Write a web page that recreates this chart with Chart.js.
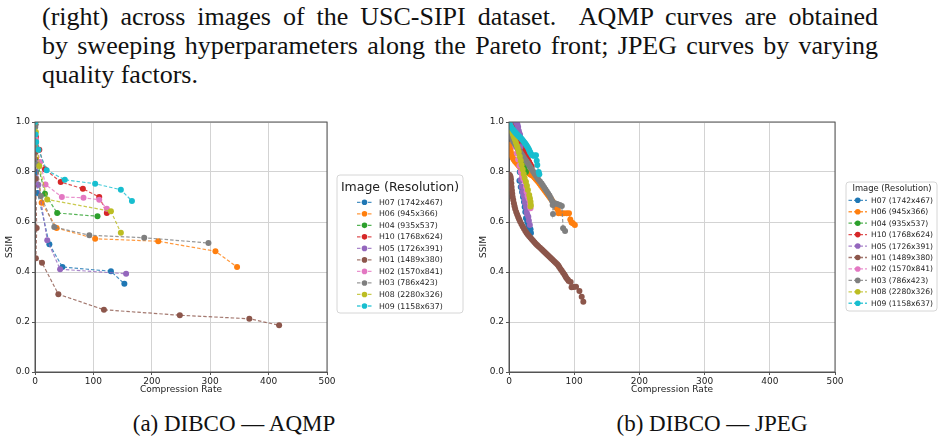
<!DOCTYPE html>
<html>
<head>
<meta charset="utf-8">
<script src="https://cdn.jsdelivr.net/npm/chart.js@4.4.1/dist/chart.umd.min.js"></script>
<style>
  html, body { margin: 0; padding: 0; background: #fff; }
  body { width: 944px; height: 444px; position: relative; overflow: hidden; }
  .caption {
    position: absolute; left: 42px; top: 2px; width: 836px;
    font-family: "Liberation Serif", serif; font-size: 26px; line-height: 29px; color: #111;
  }
  .caption .j { text-align: justify; text-align-last: justify; white-space: nowrap; }
  .sub {
    position: absolute; top: 411px; width: 300px; text-align: center;
    font-family: "Liberation Serif", serif; font-size: 23px; color: #111;
  }
  canvas { position: absolute; }
</style>
</head>
<body>
<div class="caption">
  <div class="j">(right) across images of the USC-SIPI dataset.&nbsp; AQMP curves are obtained</div>
  <div class="j">by sweeping hyperparameters along the Pareto front; JPEG curves by varying</div>
  <div>quality factors.</div>
</div>
<canvas id="aqmpChart" width="480" height="296" style="left:0;top:100px;width:480px;height:296px"></canvas>
<canvas id="jpegChart" width="470" height="296" style="left:474px;top:100px;width:470px;height:296px"></canvas>
<div class="sub" style="left:84px">(a) DIBCO — AQMP</div>
<div class="sub" style="left:562px">(b) DIBCO — JPEG</div>
<script>
// legend labels, in plotting order
const imageLabels = ['H07 (1742x467)', 'H06 (945x366)', 'H04 (935x537)', 'H10 (1768x624)', 'H05 (1726x391)',
                     'H01 (1489x380)', 'H02 (1570x841)', 'H03 (786x423)', 'H08 (2280x326)', 'H09 (1158x637)'];
const tab10 = ['#1f77b4', '#ff7f0e', '#2ca02c', '#d62728', '#9467bd', '#8c564b', '#e377c2', '#7f7f7f', '#bcbd22', '#17becf'];

const rateTicks = [0, 100, 200, 300, 400, 500];
const ssimTicks = [0.0, 0.2, 0.4, 0.6, 0.8, 1.0];

// AQMP: [compression rate, SSIM]
const aqmpH07 = [[0.5,0.99],[1,0.93],[2,0.80],[4.6,0.716],[24.6,0.511],[47,0.42],[130,0.403],[153,0.353]];
const aqmpH06 = [[0.5,1.0],[1,0.94],[2,0.85],[11.4,0.677],[37,0.576],[103,0.533],[211,0.523],[309,0.483],[346,0.42]];
const aqmpH04 = [[0.5,0.99],[1.5,0.92],[4,0.84],[17,0.713],[38,0.636],[107,0.623]];
const aqmpH10 = [[0.5,1.0],[1.5,0.94],[7.4,0.889],[17,0.811],[44,0.76],[82,0.733],[110,0.70],[123,0.636]];
const aqmpH05 = [[0.5,0.99],[1,0.9],[5.7,0.749],[21,0.527],[43,0.411],[156,0.393]];
const aqmpH01 = [[0.5,0.99],[1,0.88],[1.1,0.773],[2.9,0.576],[1.5,0.455],[12,0.437],[40,0.311],[118,0.249],[248,0.227],[367,0.213],[418,0.187]];
const aqmpH02 = [[0.5,1.0],[1.5,0.93],[8.6,0.84],[18,0.75],[46,0.70],[83,0.697],[110,0.689],[123,0.653]];
const aqmpH03 = [[0.5,0.98],[1,0.9],[3,0.83],[10,0.704],[33,0.58],[93,0.547],[187,0.537],[297,0.516]];
const aqmpH08 = [[0.5,1.0],[1.5,0.96],[7.4,0.824],[21,0.69],[130,0.643],[147,0.557]];
const aqmpH09 = [[0.5,1.0],[1,0.95],[2,0.92],[6,0.889],[20,0.807],[51,0.769],[103,0.753],[147,0.729],[166,0.684]];

// JPEG: [compression rate, SSIM] over quality factors
const jpegH07 = [[10,1.0],[11,0.99],[12,0.975],[13,0.96],[14,0.94],[15,0.92],[15.5,0.88],[16,0.84],[16.5,0.8],[16,0.765],[18,0.74],[20,0.72],[21.5,0.7],[23,0.68],[24,0.66],[25,0.64],[26,0.615],[28,0.6],[29.6,0.588],[31,0.58],[33,0.571],[33.7,0.556]];
const jpegH06 = [[0.5,0.909],[1,0.905],[1.5,0.898],[2,0.89],[2.5,0.882],[3,0.875],[4,0.868],[5,0.861],[6,0.855],[7.5,0.849],[9,0.843],[11,0.837],[13,0.831],[15,0.825],[17,0.82],[19,0.815],[21,0.81],[23,0.806],[25,0.803],[27,0.8],[29,0.797],[31,0.794],[33,0.79],[35,0.787],[37,0.784],[39,0.778],[41,0.772],[43,0.766],[45,0.76],[47,0.753],[49,0.746],[51,0.739],[53,0.732],[55,0.725],[57,0.718],[59,0.711],[61,0.704],[63,0.697],[65,0.69],[67,0.682],[69,0.674],[71,0.665],[73,0.656],[75,0.648],[76,0.635],[80,0.635],[84,0.635],[88.5,0.635],[92,0.635],[94,0.61],[96,0.598],[98,0.595],[101,0.588]];
const jpegH04 = [[0.5,0.995],[2,0.98],[4,0.965],[6,0.95],[8,0.935],[10,0.92],[12,0.905],[14,0.89],[16,0.875],[18,0.86],[20,0.845],[22,0.83],[24,0.815],[26,0.8]];
const jpegH10 = [[0.5,1.0],[3,0.99],[6,0.978],[9,0.965],[12,0.952],[15,0.937],[17,0.925],[19,0.912],[21,0.9],[23,0.888],[25,0.875],[27,0.862],[29,0.85],[31,0.84],[33,0.83],[34.8,0.821]];
const jpegH05 = [[11,1.0],[12,0.995],[13,0.99],[14,0.98],[15,0.965],[16,0.955],[17,0.948],[17.5,0.9],[18,0.85],[18.5,0.8],[18,0.768],[19.4,0.741],[21,0.72],[22.5,0.705],[24,0.69],[24.5,0.677],[26,0.66],[27,0.64],[28,0.63],[29.6,0.621],[30.5,0.605],[32,0.588]];
const jpegH01 = [[0.5,0.789],[1.5,0.786],[2.5,0.78],[3,0.77],[3.5,0.755],[4,0.74],[4.5,0.726],[5,0.713],[5.6,0.70],[6.5,0.688],[7.5,0.675],[8.5,0.663],[9.5,0.652],[11,0.64],[12.5,0.63],[14,0.62],[15.5,0.611],[17,0.602],[19,0.592],[21,0.582],[23,0.573],[25,0.564],[27,0.556],[29,0.549],[31,0.543],[33,0.537],[35,0.531],[37,0.525],[39,0.519],[41,0.513],[43,0.508],[45,0.503],[47.5,0.497],[50,0.491],[52,0.486],[54,0.481],[56,0.476],[58,0.471],[60,0.466],[62,0.461],[64,0.456],[66,0.451],[68,0.446],[70,0.441],[72,0.436],[74,0.431],[75.6,0.426],[77,0.42],[79,0.412],[81,0.405],[83,0.397],[85,0.39],[86.5,0.383],[88,0.376],[90,0.37],[91.5,0.364],[94.6,0.36],[96,0.339],[99,0.34],[102.8,0.341],[108,0.324],[111.5,0.301],[114,0.281]];
const jpegH02 = [[0.5,1.0],[2,0.985],[4,0.965],[6,0.945],[8,0.925],[10,0.9],[12,0.875],[14,0.85],[16,0.825],[18,0.801],[20,0.785],[22,0.772],[24.5,0.761],[26,0.74],[27,0.721],[28.5,0.705],[30,0.695],[31,0.69],[32,0.675],[32.5,0.662],[33,0.655]];
const jpegH03 = [[0.5,0.985],[1,0.97],[1.5,0.956],[2.5,0.948],[4,0.938],[5.5,0.928],[7,0.92],[9,0.912],[11,0.904],[13,0.896],[15,0.888],[17,0.881],[19,0.873],[21,0.865],[23,0.857],[25,0.849],[27,0.842],[29,0.834],[31,0.826],[33,0.818],[35,0.81],[37,0.802],[39,0.794],[41,0.786],[43,0.778],[45,0.77],[47.5,0.762],[50,0.754],[52,0.746],[54,0.738],[56,0.73],[58,0.722],[60,0.714],[62,0.706],[64,0.696],[66,0.685],[67,0.668],[67.5,0.632],[70.5,0.675],[74,0.672],[78,0.668],[81,0.664],[83,0.575],[86,0.564]];
const jpegH08 = [[0.5,0.99],[1.5,0.98],[3,0.97],[4.5,0.96],[6,0.95],[7.5,0.94],[9,0.93],[10.5,0.918],[12,0.906],[13.5,0.895],[15,0.88],[16.5,0.862],[18,0.845],[19.4,0.828],[21,0.81],[22.5,0.792],[24,0.776],[26,0.761],[27.5,0.745],[29,0.728],[31,0.708],[32,0.695],[33,0.681],[33.5,0.668],[33,0.662]];
const jpegH09 = [[0.5,0.998],[1.5,0.99],[3,0.982],[4.5,0.975],[6,0.97],[7.5,0.965],[9,0.96],[10.5,0.955],[12,0.951],[13.5,0.947],[15,0.943],[16.5,0.94],[18,0.936],[19.5,0.932],[21,0.927],[22.5,0.922],[24,0.917],[25.5,0.912],[27,0.906],[28.5,0.9],[30,0.893],[31,0.887],[32,0.881],[33,0.876],[34.8,0.868],[36.5,0.866],[38,0.865],[40,0.866],[41.4,0.867],[42.5,0.845],[43.4,0.828],[45.5,0.8],[46.5,0.791]];

const aqmpSeries = [aqmpH07, aqmpH06, aqmpH04, aqmpH10, aqmpH05, aqmpH01, aqmpH02, aqmpH03, aqmpH08, aqmpH09];
const jpegSeries = [jpegH07, jpegH06, jpegH04, jpegH10, jpegH05, jpegH01, jpegH02, jpegH03, jpegH08, jpegH09];

Chart.defaults.font.family = '"DejaVu Sans", sans-serif';
Chart.defaults.font.size = 9;
Chart.defaults.color = '#222';

function hexAlpha(hex, a) {
    const n = parseInt(hex.slice(1), 16);
    return `rgba(${n >> 16},${(n >> 8) & 255},${n & 255},${a})`;
}

// matplotlib-style boxed legend, drawn on the canvas
const boxLegend = {
    id: 'boxLegend',
    afterDraw(chart, args, o) {
        const ctx = chart.ctx;
        ctx.save();
        ctx.beginPath();
        ctx.roundRect(o.x0, o.y0, o.x1 - o.x0, o.y1 - o.y0, 3);
        ctx.fillStyle = 'rgba(255,255,255,0.8)';
        ctx.fill();
        ctx.strokeStyle = '#d6d6d6';
        ctx.lineWidth = 1;
        ctx.stroke();

        ctx.fillStyle = '#222';
        ctx.textBaseline = 'middle';
        ctx.textAlign = 'center';
        ctx.font = `${o.titleSize}px "DejaVu Sans"`;
        ctx.fillText('Image (Resolution)', o.titleX, o.titleY);

        ctx.textAlign = 'left';
        ctx.font = `${o.itemSize}px "DejaVu Sans"`;
        chart.data.datasets.forEach((ds, i) => {
            const y = o.rowY + i * o.rowStep;
            ctx.strokeStyle = ds.borderColor;
            ctx.lineWidth = 1.3;
            ctx.setLineDash([3.5, 2]);
            ctx.beginPath();
            ctx.moveTo(o.lineX0, y);
            ctx.lineTo(o.lineX1, y);
            ctx.stroke();
            ctx.setLineDash([]);
            ctx.fillStyle = ds.pointBackgroundColor;
            ctx.beginPath();
            ctx.arc((o.lineX0 + o.lineX1) / 2, y, 2.8, 0, Math.PI * 2);
            ctx.fill();
            ctx.fillStyle = '#222';
            ctx.fillText(ds.label, o.textX, y + 0.5);
        });
        ctx.restore();
    }
};

// top and right spines
const frame = {
    id: 'frame',
    afterDatasetsDraw(chart) {
        const a = chart.chartArea, ctx = chart.ctx;
        ctx.save();
        ctx.strokeStyle = '#555';
        ctx.lineWidth = 1;
        ctx.strokeRect(a.left, a.top, a.right - a.left, a.bottom - a.top);
        ctx.restore();
    }
};

function makeChart(id, series, padRight, legend) {
    const datasets = series.map((pts, i) => ({
        label: imageLabels[i],
        data: pts.map(p => ({ x: p[0], y: p[1] })),
        showLine: true,
        borderColor: hexAlpha(tab10[i], 0.8),
        borderWidth: 1.2,
        borderDash: [3.5, 2],
        pointBackgroundColor: tab10[i],
        pointBorderWidth: 0,
        pointRadius: 3,
        order: -i
    }));
    return new Chart(document.getElementById(id), {
        type: 'scatter',
        data: { datasets },
        options: {
            responsive: false,
            animation: false,
            events: [],
            layout: { padding: { left: 0, top: 22, right: padRight, bottom: 0 } },
            plugins: { legend: { display: false }, tooltip: { enabled: false }, boxLegend: legend },
            scales: {
                x: {
                    type: 'linear', min: 0, max: 500,
                    afterBuildTicks: ax => { ax.ticks = rateTicks.map(v => ({ value: v })); },
                    afterFit: ax => { ax.height = 24; },
                    ticks: { padding: 1, callback: v => String(v) },
                    grid: { color: '#d3d3d3', tickColor: '#555', tickLength: 3 },
                    border: { color: '#555' },
                    title: { display: true, text: 'Compression Rate', padding: { top: 0, bottom: 1 } }
                },
                y: {
                    type: 'linear', min: 0, max: 1,
                    afterBuildTicks: ax => { ax.ticks = ssimTicks.map(v => ({ value: v })); },
                    afterFit: ax => { ax.width = 35; },
                    ticks: { padding: 2, callback: v => v.toFixed(1) },
                    grid: { color: '#d3d3d3', tickColor: '#555', tickLength: 3 },
                    border: { color: '#555' },
                    title: { display: true, text: 'SSIM', padding: { top: 4.5, bottom: 0 } }
                }
            }
        },
        plugins: [frame, boxLegend]
    });
}

makeChart('aqmpChart', aqmpSeries, 153, {
    x0: 337, y0: 75, x1: 463, y1: 213,
    titleSize: 12.5, titleX: 400, titleY: 87.5,
    itemSize: 7.8, rowY: 102.3, rowStep: 11.52,
    lineX0: 357, lineX1: 372, textX: 379
});
makeChart('jpegChart', jpegSeries, 109, {
    x0: 372, y0: 82, x1: 463, y1: 211,
    titleSize: 8.4, titleX: 418, titleY: 89,
    itemSize: 7.6, rowY: 100.3, rowStep: 11.44,
    lineX0: 374.5, lineX1: 393, textX: 397
});
</script>
</body>
</html>
